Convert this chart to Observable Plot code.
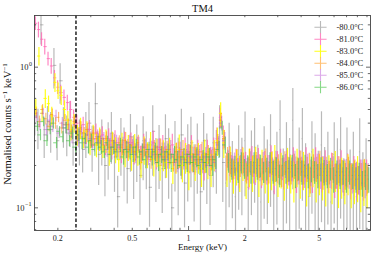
<!DOCTYPE html>
<html><head><meta charset="utf-8">
<script src="https://cdn.jsdelivr.net/npm/d3@7"></script>
<script src="https://cdn.jsdelivr.net/npm/@observablehq/plot@0.6"></script>
<style>
body{margin:0;background:#fff}
#wrap{position:relative;width:374px;height:256px}
svg{display:block}
#ylab{position:absolute;left:7px;top:124px;transform:translate(-50%,-50%) rotate(-90deg);white-space:nowrap;font:10.6px "Liberation Serif",serif;color:#111}
#ylab sup{font-size:7px;vertical-align:3.5px;line-height:0}
</style>
</head><body><div id="wrap"><div id="ylab">Normalised counts s<sup>−1</sup> keV<sup>−1</sup></div></div>
<script>
const energy = [
0.153,0.159,0.165,0.172,0.179,0.186,0.194,0.201,0.209,0.218,
0.227,0.236,0.245,0.255,0.265,0.276,0.287,0.298,0.310,0.323,
0.336,0.349,0.363,0.378,0.393,0.408,0.425,0.442,0.459,0.478,
0.497,0.517,0.537,0.559,0.581,0.604,0.629,0.654,0.680,0.707,
0.735,0.765,0.795,0.827,0.860,0.895,0.930,0.968,1.006,1.047,
1.089,1.132,1.177,1.224,1.273,1.324,1.377,1.432,1.490,1.549,
1.611,1.676,1.743,1.812,1.885,1.960,2.039,2.120,2.205,2.293,
2.385,2.480,2.579,2.683,2.790,2.902,3.018,3.138,3.264,3.394,
3.530,3.671,3.818,3.971,4.130,4.295,4.467,4.645,4.831,5.024,
5.225,5.434,5.652,5.878,6.113,6.357,6.612,6.876,7.151,7.437,
7.735,8.044,8.366,8.701,9.049];

const relErr = [
0.07,0.08,0.07,0.08,0.07,0.08,0.08,0.07,0.08,0.08,
0.08,0.09,0.08,0.09,0.09,0.08,0.09,0.10,0.09,0.10,
0.10,0.09,0.10,0.11,0.10,0.11,0.10,0.11,0.12,0.11,
0.11,0.12,0.11,0.12,0.12,0.11,0.12,0.13,0.12,0.12,
0.13,0.12,0.13,0.12,0.13,0.14,0.13,0.13,0.14,0.13,
0.14,0.13,0.14,0.14,0.13,0.14,0.13,0.12,0.10,0.12,
0.14,0.15,0.14,0.15,0.15,0.14,0.15,0.16,0.15,0.15,
0.16,0.15,0.16,0.15,0.16,0.17,0.16,0.15,0.16,0.17,
0.16,0.17,0.16,0.17,0.16,0.17,0.18,0.16,0.17,0.17,
0.18,0.17,0.16,0.18,0.17,0.18,0.17,0.18,0.17,0.18,
0.18,0.19,0.18,0.19,0.18];

const t80 = [
0.45,0.38,2.00,0.33,0.41,0.36,1.03,0.30,0.80,0.39,
0.34,0.42,0.29,0.37,0.31,0.26,0.35,0.40,0.28,0.55,
0.24,0.31,0.20,0.28,0.34,0.23,0.12,0.30,0.25,0.19,
0.32,0.22,0.27,0.17,0.30,0.24,0.14,0.35,0.21,0.26,
0.19,0.31,0.24,0.10,0.27,0.20,0.33,0.15,0.25,0.29,
0.18,0.26,0.13,0.30,0.22,0.17,0.29,0.24,0.38,0.21,
0.15,0.25,0.19,0.12,0.24,0.20,0.30,0.14,0.22,0.27,
0.17,0.11,0.23,0.19,0.28,0.13,0.21,0.36,0.16,0.24,
0.19,0.42,0.14,0.22,0.31,0.17,0.12,0.25,0.20,0.15,
0.28,0.16,0.21,0.11,0.24,0.18,0.26,0.13,0.22,0.15,
0.20,0.12,0.25,0.14,0.18];
const t81 = [
2.05,1.85,1.58,1.40,1.15,1.02,0.84,0.72,0.66,0.61,
0.56,0.50,0.44,0.40,0.36,0.39,0.33,0.36,0.31,0.34,
0.30,0.33,0.28,0.31,0.26,0.30,0.27,0.25,0.29,0.26,
0.29,0.25,0.27,0.23,0.28,0.24,0.26,0.29,0.23,0.26,
0.27,0.23,0.25,0.28,0.22,0.24,0.21,0.26,0.23,0.27,
0.22,0.25,0.23,0.20,0.25,0.22,0.26,0.31,0.44,0.32,
0.20,0.22,0.19,0.21,0.18,0.22,0.20,0.18,0.22,0.19,
0.21,0.18,0.20,0.19,0.22,0.17,0.20,0.21,0.18,0.20,
0.19,0.21,0.17,0.20,0.18,0.21,0.19,0.17,0.21,0.19,
0.18,0.20,0.17,0.19,0.16,0.18,0.20,0.17,0.19,0.16,
0.18,0.16,0.17,0.16,0.17];
const t83 = [
0.52,1.20,0.47,0.60,0.55,0.45,0.78,0.68,0.63,0.50,
0.42,0.36,0.40,0.33,0.37,0.31,0.35,0.29,0.33,0.28,
0.31,0.27,0.30,0.25,0.29,0.26,0.22,0.28,0.25,0.27,
0.23,0.27,0.25,0.21,0.26,0.24,0.28,0.22,0.25,0.20,
0.24,0.21,0.25,0.19,0.23,0.26,0.20,0.23,0.18,0.24,
0.21,0.23,0.19,0.24,0.21,0.19,0.24,0.30,0.47,0.29,
0.19,0.21,0.17,0.20,0.18,0.21,0.16,0.20,0.18,0.21,
0.17,0.20,0.18,0.15,0.19,0.21,0.17,0.19,0.16,0.20,
0.18,0.16,0.20,0.17,0.19,0.15,0.18,0.20,0.16,0.18,
0.17,0.15,0.18,0.16,0.19,0.15,0.17,0.16,0.18,0.15,
0.16,0.17,0.14,0.16,0.15];
const t84 = [
0.47,0.41,0.50,0.43,0.38,0.46,0.40,0.44,0.37,0.42,
0.39,0.35,0.41,0.33,0.37,0.34,0.36,0.30,0.34,0.31,
0.32,0.28,0.31,0.27,0.30,0.26,0.29,0.27,0.30,0.26,
0.28,0.25,0.29,0.24,0.27,0.25,0.22,0.26,0.24,0.27,
0.23,0.26,0.24,0.21,0.25,0.23,0.26,0.22,0.24,0.21,
0.24,0.22,0.25,0.21,0.24,0.22,0.23,0.29,0.42,0.31,
0.23,0.21,0.19,0.22,0.20,0.21,0.18,0.22,0.20,0.21,
0.20,0.19,0.22,0.18,0.21,0.19,0.20,0.17,0.21,0.19,
0.18,0.20,0.19,0.21,0.18,0.19,0.16,0.20,0.19,0.21,
0.17,0.19,0.18,0.20,0.17,0.19,0.18,0.17,0.19,0.17,
0.18,0.16,0.17,0.18,0.16];
const t85 = [
0.44,0.39,0.47,0.36,0.42,0.38,0.45,0.34,0.40,0.37,
0.36,0.32,0.39,0.30,0.35,0.29,0.33,0.31,0.28,0.32,
0.29,0.31,0.26,0.30,0.27,0.29,0.25,0.28,0.26,0.29,
0.27,0.24,0.28,0.25,0.27,0.23,0.26,0.24,0.27,0.23,
0.25,0.22,0.26,0.23,0.21,0.25,0.22,0.24,0.21,0.23,
0.22,0.24,0.21,0.23,0.20,0.23,0.21,0.28,0.40,0.30,
0.22,0.20,0.21,0.19,0.22,0.20,0.19,0.21,0.18,0.20,
0.19,0.21,0.18,0.20,0.19,0.21,0.18,0.19,0.20,0.18,
0.19,0.21,0.18,0.19,0.17,0.20,0.18,0.19,0.20,0.17,
0.19,0.18,0.17,0.19,0.17,0.18,0.16,0.18,0.17,0.16,
0.17,0.16,0.18,0.15,0.17];
const t86 = [
0.38,0.33,0.41,0.30,0.36,0.40,0.29,0.35,0.32,0.37,
0.30,0.34,0.27,0.33,0.29,0.31,0.27,0.30,0.26,0.29,
0.27,0.25,0.29,0.24,0.27,0.25,0.28,0.23,0.26,0.25,
0.24,0.27,0.23,0.25,0.22,0.26,0.23,0.25,0.21,0.24,
0.22,0.25,0.21,0.24,0.22,0.20,0.23,0.21,0.24,0.21,
0.23,0.20,0.22,0.21,0.23,0.20,0.22,0.26,0.37,0.28,
0.21,0.19,0.20,0.18,0.21,0.19,0.20,0.18,0.21,0.19,
0.20,0.18,0.19,0.21,0.18,0.19,0.17,0.20,0.18,0.19,
0.20,0.17,0.19,0.18,0.20,0.17,0.19,0.18,0.17,0.19,
0.18,0.17,0.19,0.16,0.18,0.17,0.18,0.16,0.18,0.17,
0.16,0.17,0.15,0.17,0.16];

const seriesNames = ["-80.0°C","-81.0°C","-83.0°C","-84.0°C","-85.0°C","-86.0°C"];
const seriesValues = [t80, t81, t83, t84, t85, t86];
const seriesColors = ["#808080","#ff69b4","#ffff00","#ff8c00","#ba55d3","#3cc03c"];
const seriesOpacity = [0.55, 0.8, 0.9, 0.55, 0.5, 0.62];
const errScale = [4.0, 1.6, 1.9, 1.2, 1.2, 1.15];

const xLabels = [0.2, 0.5, 1, 2, 5];
const xMajor = [1];
const xMinor = [0.2,0.3,0.4,0.5,0.6,0.7,0.8,0.9,2,3,4,5,6,7,8,9];
const yMajor = [0.1, 1];
const yMajorSup = ["−1", "0"];
const yMinor = [0.07,0.08,0.09,0.2,0.3,0.4,0.5,0.6,0.7,0.8,0.9,2];
const dashedEnergy = [0.25];

const W = 374, H = 256, mL = 34, mR = 4, mT = 15, mB = 26;
const iW = W - mL - mR, iH = H - mT - mB;
const axisColor = "#444";
const font = "Liberation Serif";

const n = energy.length;
const nS = seriesValues.length;
const lo = energy.map((e, i) => i === 0 ? e * e / Math.sqrt(e * energy[1]) : Math.sqrt(energy[i - 1] * e));
const hi = energy.map((e, i) => i === n - 1 ? e * e / Math.sqrt(e * energy[n - 2]) : Math.sqrt(energy[i + 1] * e));

const marks = [];
seriesValues.forEach((vals, s) => {
  const rows = vals.map((v, i) => {
    const err = v * relErr[i] * errScale[s];
    // each series' bar sits in its own slot inside the shared bin
    const slot = s;
    const r = hi[i] / lo[i];
    const xs = lo[i] * Math.pow(r, (slot + 0.5) / nS);
    const narrow = energy[i] > 1.6;
    const x1 = narrow ? lo[i] * Math.pow(r, slot / nS) : lo[i];
    const x2 = narrow ? lo[i] * Math.pow(r, (slot + 1) / nS) : hi[i];
    return {e: xs, x1, x2, v, y1: Math.max(v - err, 0.05), y2: v + err};
  });
  const st = {stroke: seriesColors[s], strokeOpacity: seriesOpacity[s], clip: true};
  marks.push(Plot.ruleX(rows, {x: "e", y1: "y1", y2: "y2", strokeWidth: 1.2, ...st}));
  marks.push(Plot.ruleY(rows, {y: "v", x1: "x1", x2: "x2", strokeWidth: 1, ...st}));
});

marks.push(Plot.ruleX(dashedEnergy, {x: d => d, stroke: "#000", strokeWidth: 1.3, strokeDasharray: "3.5,2"}));

// inward ticks on all four sides
const tk = {stroke: axisColor, strokeWidth: 0.8};
marks.push(Plot.ruleX(xMajor, {x: d => d, ...tk, insetTop: iH - 4}));
marks.push(Plot.ruleX(xMajor, {x: d => d, ...tk, insetBottom: iH - 4}));
marks.push(Plot.ruleX(xMinor, {x: d => d, ...tk, insetTop: iH - 2.2}));
marks.push(Plot.ruleX(xMinor, {x: d => d, ...tk, insetBottom: iH - 2.2}));
marks.push(Plot.ruleY(yMajor, {y: d => d, ...tk, insetRight: iW - 4}));
marks.push(Plot.ruleY(yMajor, {y: d => d, ...tk, insetLeft: iW - 4}));
marks.push(Plot.ruleY(yMinor, {y: d => d, ...tk, insetRight: iW - 2.2}));
marks.push(Plot.ruleY(yMinor, {y: d => d, ...tk, insetLeft: iW - 2.2}));
marks.push(Plot.frame({stroke: axisColor, strokeWidth: 0.9}));

// tick labels
marks.push(Plot.text(xLabels, {x: d => d, text: d => String(d), frameAnchor: "bottom", lineAnchor: "middle", dy: 8, fontSize: 8, fill: "#222"}));
yMajor.forEach((v, k) => {
  const sup = yMajorSup[k];
  const supW = sup.length > 1 ? 8 : 4;
  marks.push(Plot.text([v], {y: d => d, text: () => "10", frameAnchor: "left", lineAnchor: "middle", textAnchor: "end", dx: -2 - supW, fontSize: 8.5, fill: "#222"}));
  marks.push(Plot.text([v], {y: d => d, text: () => sup, frameAnchor: "left", lineAnchor: "middle", textAnchor: "start", dx: -1.5 - supW, dy: -3.5, fontSize: 6, fill: "#222"}));
});

// title and x label
marks.push(Plot.text(["TM4"], {frameAnchor: "top", lineAnchor: "middle", dy: -7, fontSize: 10.5, fill: "#111"}));
marks.push(Plot.text(["Energy (keV)"], {frameAnchor: "bottom", lineAnchor: "middle", dy: 17, fontSize: 9, fill: "#111"}));

// legend
seriesNames.forEach((name, s) => {
  const dy = 11.7 + 12 * s;
  marks.push(Plot.dot([name], {frameAnchor: "top-right", dx: -50, dy, symbol: "plus", r: 4, fill: "none", stroke: seriesColors[s], strokeOpacity: seriesOpacity[s], strokeWidth: 1.1}));
  marks.push(Plot.text([name], {frameAnchor: "top-right", lineAnchor: "middle", dx: -34, dy, text: d => d, textAnchor: "start", fontSize: 8.5, fill: "#222"}));
});

const chart = Plot.plot({
  width: W, height: H,
  marginLeft: mL, marginRight: mR, marginTop: mT, marginBottom: mB,
  x: {type: "log", domain: [0.15, 9.4], axis: null},
  y: {type: "log", domain: [0.069, 2.33], axis: null},
  style: {fontFamily: font, background: "#fff"},
  marks
});
document.getElementById("wrap").appendChild(chart);
</script>
</body></html>
